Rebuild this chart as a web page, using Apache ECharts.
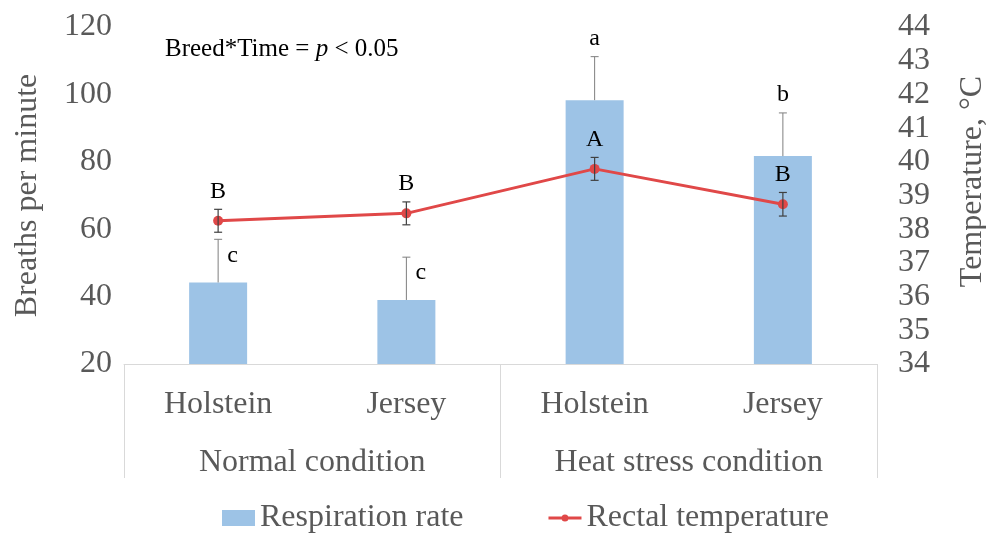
<!DOCTYPE html>
<html>
<head>
<meta charset="utf-8">
<script src="https://cdn.jsdelivr.net/npm/echarts@6/dist/echarts.min.js"></script>
<style>html,body{margin:0;padding:0;background:#fff}#c{width:986px;height:535px}</style>
</head>
<body>
<div id="c"></div>
<script>
const categories = ['Holstein', 'Jersey', 'Holstein', 'Jersey'];
const groups = ['Normal condition', 'Heat stress condition'];
const respRate = [44.2, 39.0, 98.3, 81.7];
const respErr = [12.8, 12.7, 12.9, 12.8];
const rectalTemp = [38.25, 38.47, 39.79, 38.74];
const tempErr = [0.34, 0.34, 0.34, 0.35];
const respLetters = ['c', 'c', 'a', 'b'];
const tempLetters = ['B', 'B', 'A', 'B'];
const respLetterPlacement = ['right', 'right', 'top', 'top'];

const FONT = 'Liberation Serif';
const GRAY = '#595959';
const BAR_COLOR = '#9DC3E6';
const LINE_COLOR = '#E04848';
const LINE_ICON = 'path://M0,2 L33,2 L33,5 L0,5 Z M16.5,0 A3.5,3.5 0 1,1 16.5,7 A3.5,3.5 0 1,1 16.5,0 Z';

const chart = echarts.init(document.getElementById('c'));

function errRender(valArr, errArr, symmetric, color, width) {
  return function (params, api) {
    const i = params.dataIndex;
    const v = valArr[i], e = errArr[i];
    const top = api.coord([i, v + e]);
    const bot = api.coord([i, symmetric ? v - e : v]);
    const hw = 4;
    const st = { stroke: color, lineWidth: width };
    const children = [
      { type: 'line', shape: { x1: top[0], y1: top[1], x2: bot[0], y2: bot[1] }, style: st },
      { type: 'line', shape: { x1: top[0] - hw, y1: top[1], x2: top[0] + hw, y2: top[1] }, style: st }
    ];
    if (symmetric) {
      children.push({ type: 'line', shape: { x1: bot[0] - hw, y1: bot[1], x2: bot[0] + hw, y2: bot[1] }, style: st });
    }
    return { type: 'group', children: children };
  };
}

function letterRender(valArr, errArr, letters, placement) {
  return function (params, api) {
    const i = params.dataIndex;
    const p = api.coord([i, valArr[i] + errArr[i]]);
    const pos = placement ? placement[i] : 'top';
    let x = p[0], y = p[1] - 18, align = 'center';
    if (pos === 'right') { x = p[0] + 9; y = p[1] + 16; align = 'left'; }
    return {
      type: 'text',
      x: x, y: y,
      style: { text: letters[i], fontFamily: FONT, fontSize: 24, fill: '#000', align: align, verticalAlign: 'middle' }
    };
  };
}

const idx = categories.map((c, i) => i);

const option = {
  animation: false,
  backgroundColor: '#fff',
  title: {
    text: '{n|Breed*Time = }{i|p}{n| < 0.05}',
    left: 160, top: 32,
    textStyle: {
      fontWeight: 'normal',
      rich: {
        n: { fontFamily: FONT, fontSize: 25, fontWeight: 'normal', color: '#000' },
        i: { fontFamily: FONT, fontSize: 25, fontWeight: 'normal', fontStyle: 'italic', color: '#000' }
      }
    }
  },
  legend: {
    left: 217, top: 497, itemGap: 85, itemWidth: 33, itemHeight: 16,
    textStyle: { fontFamily: FONT, fontSize: 32, color: GRAY },
    data: [{ name: 'Respiration rate', icon: 'rect' }, { name: 'Rectal temperature', icon: LINE_ICON, itemStyle: { color: LINE_COLOR } }]
  },
  grid: { left: 124, right: 109, top: 27, bottom: 171, outerBoundsMode: 'none', containLabel: false },
  xAxis: [
    {
      type: 'category', data: categories,
      axisLine: { show: true, lineStyle: { color: '#d9d9d9', width: 1 } },
      axisTick: { show: false },
      axisLabel: { fontFamily: FONT, fontSize: 32, color: GRAY, margin: 25, interval: 0 },
      splitLine: { show: false }
    },
    {
      type: 'category', data: groups, position: 'bottom',
      axisLine: { show: false },
      axisTick: { show: true, length: 114, interval: 0, lineStyle: { color: '#d9d9d9', width: 1 } },
      axisLabel: { fontFamily: FONT, fontSize: 32, color: GRAY, margin: 83, interval: 0 },
      splitLine: { show: false }
    }
  ],
  yAxis: [
    {
      type: 'value', min: 20, max: 120, interval: 20,
      axisLine: { show: false }, axisTick: { show: false }, splitLine: { show: false },
      axisLabel: { fontFamily: FONT, fontSize: 32, color: GRAY, margin: 12 },
      name: 'Breaths per minute', nameLocation: 'middle', nameGap: 80,
      nameTextStyle: { fontFamily: FONT, fontSize: 32, color: GRAY }
    },
    {
      type: 'value', min: 34, max: 44, interval: 1, position: 'right',
      axisLine: { show: false }, axisTick: { show: false }, splitLine: { show: false },
      axisLabel: { fontFamily: FONT, fontSize: 32, color: GRAY, margin: 21 },
      name: 'Temperature, °C', nameLocation: 'middle', nameGap: 80, nameRotate: 90,
      nameTextStyle: { fontFamily: FONT, fontSize: 32, color: GRAY, padding: [0, 0, 0, 28] }
    }
  ],
  series: [
    {
      name: 'Respiration rate', type: 'bar', xAxisIndex: 0, yAxisIndex: 0,
      data: respRate, barWidth: 58, itemStyle: { color: BAR_COLOR }, z: 2
    },
    {
      name: 'respErr', type: 'custom', xAxisIndex: 0, yAxisIndex: 0, silent: true, z: 3,
      data: idx, renderItem: errRender(respRate, respErr, false, '#7f7f7f', 1)
    },
    {
      name: 'Rectal temperature', type: 'line', xAxisIndex: 0, yAxisIndex: 1,
      data: rectalTemp, symbol: 'circle', symbolSize: 10,
      lineStyle: { color: LINE_COLOR, width: 3 }, itemStyle: { color: LINE_COLOR }, z: 4
    },
    {
      name: 'tempErr', type: 'custom', xAxisIndex: 0, yAxisIndex: 1, silent: true, z: 5,
      data: idx, renderItem: errRender(rectalTemp, tempErr, true, '#404040', 1.2)
    },
    {
      name: 'respLetters', type: 'custom', xAxisIndex: 0, yAxisIndex: 0, silent: true, z: 6,
      data: idx, renderItem: letterRender(respRate, respErr, respLetters, respLetterPlacement)
    },
    {
      name: 'tempLetters', type: 'custom', xAxisIndex: 0, yAxisIndex: 1, silent: true, z: 6,
      data: idx, renderItem: letterRender(rectalTemp, tempErr, tempLetters, null)
    }
  ]
};
chart.setOption(option);
</script>
</body>
</html>
